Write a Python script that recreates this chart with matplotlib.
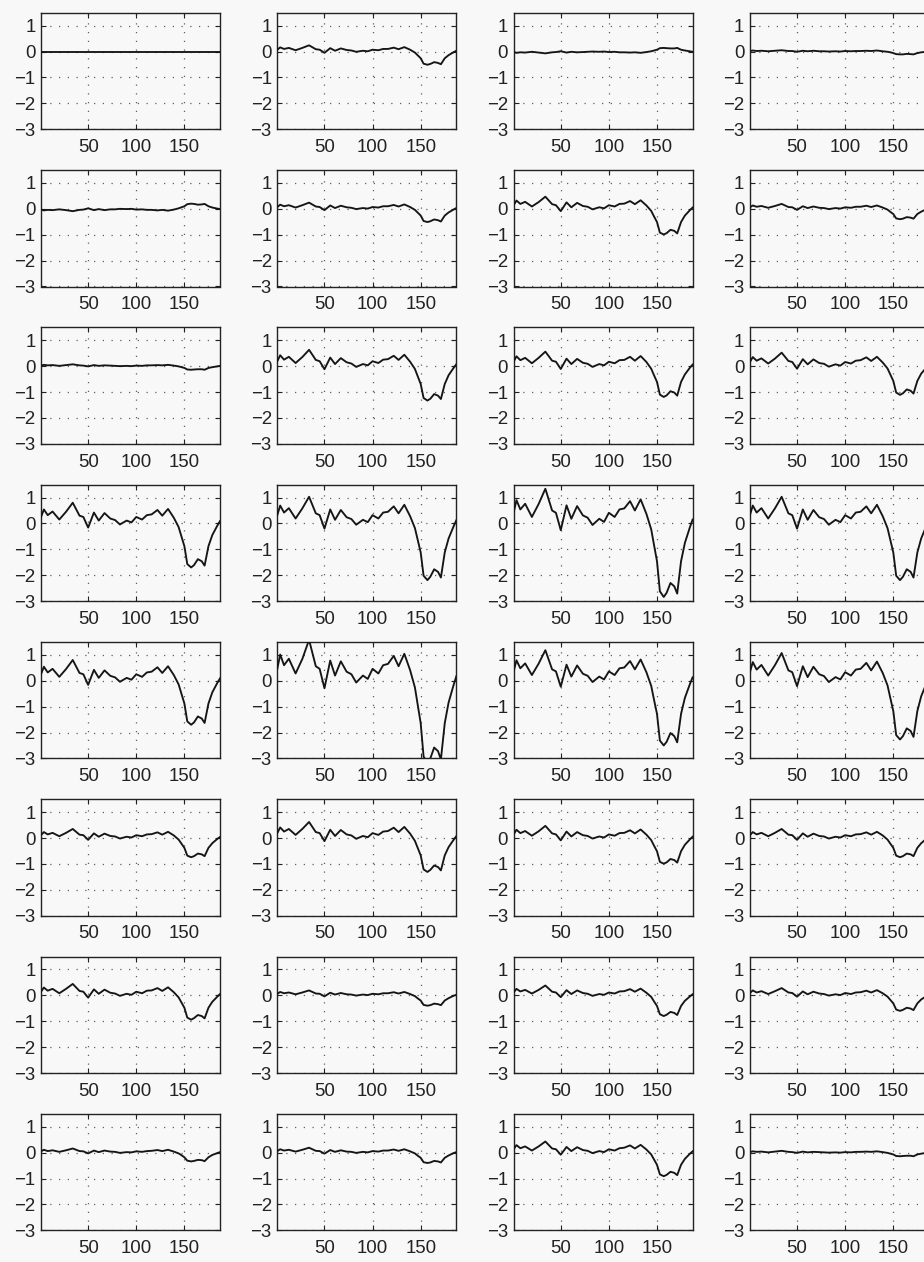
import matplotlib
matplotlib.use('Agg')
import matplotlib.pyplot as plt

plt.rcParams['font.family'] = ['Liberation Sans', 'DejaVu Sans']

# sample positions along the horizontal axis (shared by all panels)
x_pos = [1, 4, 8, 13, 20, 27, 34, 41, 45, 50, 56, 61, 67, 73, 78, 83, 90, 95, 100, 106,
         111, 116, 122, 127, 133, 139, 144, 147, 150, 153, 157, 160, 164, 168, 171, 175, 179, 184, 187]

x_ticks = [50, 100, 150]
y_ticks = [-3, -2, -1, 0, 1]

# row 1
p11 = [0.00, 0.00, 0.00, 0.00, 0.00, 0.00, 0.00, 0.00, 0.00, 0.00, 0.00, 0.00, 0.00, 0.00, 0.00, 0.00, 0.00, 0.00, 0.00, 0.00,
       0.00, 0.00, 0.00, 0.00, 0.00, 0.00, 0.00, 0.00, 0.00, 0.00, 0.00, 0.00, 0.00, 0.00, 0.00, 0.00, 0.00, 0.00, 0.00]
p12 = [0.07, 0.16, 0.10, 0.14, 0.05, 0.14, 0.24, 0.09, 0.07, -0.05, 0.13, 0.03, 0.12, 0.06, 0.04, -0.01, 0.03, 0.01, 0.07, 0.05,
       0.10, 0.10, 0.15, 0.09, 0.17, 0.07, -0.04, -0.15, -0.26, -0.47, -0.51, -0.48, -0.41, -0.44, -0.49, -0.26, -0.14, -0.03, 0.03]
p13 = [-0.02, -0.05, -0.03, -0.04, -0.01, -0.04, -0.07, -0.03, -0.02, 0.01, -0.04, -0.01, -0.03, -0.02, -0.01, 0.00, -0.01, 0.00, -0.02, -0.01,
       -0.03, -0.03, -0.04, -0.03, -0.05, -0.02, 0.01, 0.04, 0.07, 0.13, 0.14, 0.13, 0.12, 0.12, 0.14, 0.07, 0.04, 0.01, -0.01]
p14 = [0.02, 0.04, 0.02, 0.03, 0.01, 0.03, 0.05, 0.02, 0.02, -0.01, 0.03, 0.01, 0.03, 0.01, 0.01, 0.00, 0.01, 0.00, 0.02, 0.01,
       0.02, 0.02, 0.03, 0.02, 0.04, 0.01, -0.01, -0.03, -0.06, -0.10, -0.11, -0.11, -0.09, -0.10, -0.11, -0.06, -0.03, -0.01, 0.01]
# row 2
p21 = [-0.03, -0.06, -0.04, -0.05, -0.02, -0.05, -0.09, -0.04, -0.03, 0.02, -0.05, -0.01, -0.05, -0.02, -0.02, 0.00, -0.01, 0.00, -0.03, -0.02,
       -0.04, -0.04, -0.06, -0.04, -0.07, -0.03, 0.02, 0.06, 0.10, 0.18, 0.20, 0.19, 0.16, 0.17, 0.19, 0.10, 0.05, 0.01, -0.01]
p22 = [0.07, 0.16, 0.10, 0.14, 0.05, 0.14, 0.24, 0.09, 0.07, -0.05, 0.13, 0.03, 0.12, 0.06, 0.04, -0.01, 0.03, 0.01, 0.07, 0.05,
       0.10, 0.10, 0.15, 0.09, 0.17, 0.07, -0.04, -0.15, -0.26, -0.47, -0.51, -0.48, -0.41, -0.44, -0.49, -0.26, -0.14, -0.03, 0.03]
p23 = [0.14, 0.32, 0.19, 0.27, 0.09, 0.26, 0.47, 0.18, 0.14, -0.09, 0.25, 0.06, 0.23, 0.11, 0.08, -0.02, 0.06, 0.02, 0.14, 0.09,
       0.19, 0.20, 0.30, 0.18, 0.33, 0.13, -0.08, -0.30, -0.51, -0.92, -0.99, -0.94, -0.81, -0.85, -0.95, -0.51, -0.26, -0.06, 0.05]
p24 = [0.06, 0.13, 0.08, 0.11, 0.04, 0.11, 0.19, 0.07, 0.06, -0.04, 0.10, 0.03, 0.09, 0.04, 0.03, -0.01, 0.03, 0.01, 0.06, 0.04,
       0.08, 0.08, 0.12, 0.07, 0.13, 0.05, -0.03, -0.12, -0.20, -0.37, -0.40, -0.38, -0.32, -0.34, -0.38, -0.20, -0.11, -0.02, 0.02]
# row 3
p31 = [0.02, 0.05, 0.03, 0.04, 0.01, 0.04, 0.07, 0.03, 0.02, -0.01, 0.04, 0.01, 0.03, 0.02, 0.01, 0.00, 0.01, 0.00, 0.02, 0.01,
       0.03, 0.03, 0.04, 0.03, 0.05, 0.02, -0.01, -0.04, -0.07, -0.13, -0.14, -0.13, -0.12, -0.12, -0.14, -0.07, -0.04, -0.01, 0.01]
p32 = [0.19, 0.42, 0.25, 0.36, 0.12, 0.35, 0.63, 0.24, 0.19, -0.12, 0.33, 0.08, 0.31, 0.15, 0.10, -0.03, 0.08, 0.03, 0.19, 0.12,
       0.25, 0.27, 0.40, 0.24, 0.44, 0.17, -0.11, -0.40, -0.69, -1.23, -1.33, -1.26, -1.08, -1.14, -1.27, -0.69, -0.35, -0.08, 0.07]
p33 = [0.17, 0.38, 0.23, 0.32, 0.11, 0.32, 0.56, 0.21, 0.17, -0.11, 0.29, 0.08, 0.28, 0.13, 0.09, -0.03, 0.08, 0.03, 0.17, 0.11,
       0.23, 0.24, 0.36, 0.21, 0.39, 0.16, -0.10, -0.36, -0.61, -1.10, -1.19, -1.13, -0.97, -1.02, -1.14, -0.61, -0.32, -0.07, 0.06]
p34 = [0.16, 0.35, 0.21, 0.30, 0.10, 0.29, 0.52, 0.20, 0.16, -0.10, 0.27, 0.07, 0.26, 0.12, 0.09, -0.02, 0.07, 0.02, 0.16, 0.10,
       0.21, 0.23, 0.34, 0.20, 0.36, 0.14, -0.09, -0.33, -0.57, -1.02, -1.11, -1.05, -0.90, -0.95, -1.06, -0.57, -0.29, -0.07, 0.06]
# row 4
p41 = [0.25, 0.54, 0.32, 0.46, 0.15, 0.45, 0.80, 0.30, 0.25, -0.16, 0.42, 0.11, 0.40, 0.19, 0.13, -0.04, 0.11, 0.04, 0.25, 0.15,
       0.32, 0.35, 0.52, 0.30, 0.56, 0.22, -0.14, -0.51, -0.88, -1.57, -1.70, -1.61, -1.38, -1.46, -1.63, -0.88, -0.45, -0.10, 0.09]
p42 = [0.32, 0.69, 0.42, 0.59, 0.19, 0.58, 1.03, 0.39, 0.32, -0.20, 0.54, 0.14, 0.52, 0.24, 0.17, -0.05, 0.14, 0.05, 0.32, 0.19,
       0.42, 0.45, 0.66, 0.39, 0.72, 0.28, -0.18, -0.65, -1.12, -2.02, -2.19, -2.06, -1.77, -1.87, -2.09, -1.12, -0.58, -0.13, 0.12]
p43 = [0.41, 0.90, 0.54, 0.76, 0.25, 0.75, 1.34, 0.50, 0.41, -0.26, 0.70, 0.18, 0.67, 0.31, 0.22, -0.06, 0.18, 0.06, 0.41, 0.25,
       0.54, 0.58, 0.86, 0.50, 0.93, 0.37, -0.23, -0.85, -1.46, -2.62, -2.84, -2.68, -2.30, -2.43, -2.71, -1.46, -0.75, -0.17, 0.15]
p44 = [0.32, 0.69, 0.42, 0.59, 0.19, 0.58, 1.03, 0.39, 0.32, -0.20, 0.54, 0.14, 0.52, 0.24, 0.17, -0.05, 0.14, 0.05, 0.32, 0.19,
       0.42, 0.45, 0.66, 0.39, 0.72, 0.28, -0.18, -0.65, -1.12, -2.02, -2.19, -2.06, -1.77, -1.87, -2.09, -1.12, -0.58, -0.13, 0.12]
# row 5
p51 = [0.25, 0.54, 0.32, 0.46, 0.15, 0.45, 0.80, 0.30, 0.25, -0.16, 0.42, 0.11, 0.40, 0.19, 0.13, -0.04, 0.11, 0.04, 0.25, 0.15,
       0.32, 0.35, 0.52, 0.30, 0.56, 0.22, -0.14, -0.51, -0.88, -1.57, -1.70, -1.61, -1.38, -1.46, -1.63, -0.88, -0.45, -0.10, 0.09]
p52 = [0.46, 1.01, 0.60, 0.85, 0.28, 0.84, 1.58, 0.56, 0.46, -0.29, 0.78, 0.20, 0.75, 0.35, 0.25, -0.07, 0.20, 0.07, 0.46, 0.28,
       0.60, 0.65, 0.96, 0.56, 1.04, 0.41, -0.26, -0.95, -1.64, -2.93, -3.18, -3.00, -2.58, -2.72, -3.04, -1.64, -0.84, -0.19, 0.17]
p53 = [0.36, 0.79, 0.48, 0.67, 0.22, 0.66, 1.18, 0.44, 0.36, -0.23, 0.62, 0.16, 0.59, 0.27, 0.19, -0.05, 0.16, 0.05, 0.36, 0.22,
       0.48, 0.51, 0.76, 0.44, 0.82, 0.33, -0.20, -0.75, -1.28, -2.31, -2.50, -2.36, -2.02, -2.14, -2.38, -1.28, -0.66, -0.15, 0.13]
p54 = [0.33, 0.72, 0.43, 0.61, 0.20, 0.60, 1.07, 0.40, 0.33, -0.21, 0.56, 0.14, 0.54, 0.25, 0.18, -0.05, 0.14, 0.05, 0.33, 0.20,
       0.43, 0.46, 0.69, 0.40, 0.74, 0.30, -0.18, -0.68, -1.17, -2.10, -2.27, -2.14, -1.84, -1.94, -2.17, -1.17, -0.60, -0.14, 0.12]
# row 6
p61 = [0.11, 0.23, 0.14, 0.20, 0.07, 0.20, 0.35, 0.13, 0.11, -0.07, 0.18, 0.05, 0.17, 0.08, 0.06, -0.02, 0.05, 0.02, 0.11, 0.07,
       0.14, 0.15, 0.22, 0.13, 0.24, 0.10, -0.06, -0.22, -0.38, -0.68, -0.74, -0.70, -0.60, -0.63, -0.70, -0.38, -0.20, -0.04, 0.04]
p62 = [0.19, 0.41, 0.25, 0.35, 0.12, 0.35, 0.62, 0.23, 0.19, -0.12, 0.32, 0.08, 0.31, 0.14, 0.10, -0.03, 0.08, 0.03, 0.19, 0.12,
       0.25, 0.27, 0.40, 0.23, 0.43, 0.17, -0.11, -0.39, -0.67, -1.21, -1.31, -1.23, -1.06, -1.12, -1.25, -0.67, -0.35, -0.08, 0.07]
p63 = [0.14, 0.32, 0.19, 0.27, 0.09, 0.26, 0.47, 0.18, 0.14, -0.09, 0.25, 0.06, 0.23, 0.11, 0.08, -0.02, 0.06, 0.02, 0.14, 0.09,
       0.19, 0.20, 0.30, 0.18, 0.33, 0.13, -0.08, -0.30, -0.51, -0.92, -0.99, -0.94, -0.81, -0.85, -0.95, -0.51, -0.26, -0.06, 0.05]
p64 = [0.11, 0.23, 0.14, 0.20, 0.07, 0.20, 0.35, 0.13, 0.11, -0.07, 0.18, 0.05, 0.17, 0.08, 0.06, -0.02, 0.05, 0.02, 0.11, 0.07,
       0.14, 0.15, 0.22, 0.13, 0.24, 0.10, -0.06, -0.22, -0.38, -0.68, -0.74, -0.70, -0.60, -0.63, -0.70, -0.38, -0.20, -0.04, 0.04]
# row 7
p71 = [0.14, 0.30, 0.18, 0.25, 0.08, 0.25, 0.44, 0.17, 0.14, -0.09, 0.23, 0.06, 0.22, 0.10, 0.07, -0.02, 0.06, 0.02, 0.14, 0.08,
       0.18, 0.19, 0.28, 0.17, 0.31, 0.12, -0.08, -0.28, -0.48, -0.86, -0.94, -0.88, -0.76, -0.80, -0.89, -0.48, -0.25, -0.06, 0.05]
p72 = [0.06, 0.13, 0.08, 0.11, 0.04, 0.11, 0.19, 0.07, 0.06, -0.04, 0.10, 0.03, 0.09, 0.04, 0.03, -0.01, 0.03, 0.01, 0.06, 0.04,
       0.08, 0.08, 0.12, 0.07, 0.13, 0.05, -0.03, -0.12, -0.20, -0.37, -0.40, -0.38, -0.32, -0.34, -0.38, -0.20, -0.11, -0.02, 0.02]
p73 = [0.11, 0.25, 0.15, 0.21, 0.07, 0.21, 0.38, 0.14, 0.11, -0.07, 0.20, 0.05, 0.19, 0.09, 0.06, -0.02, 0.05, 0.02, 0.11, 0.07,
       0.15, 0.16, 0.24, 0.14, 0.26, 0.10, -0.06, -0.24, -0.41, -0.73, -0.80, -0.75, -0.64, -0.68, -0.76, -0.41, -0.21, -0.05, 0.04]
p74 = [0.09, 0.19, 0.11, 0.16, 0.05, 0.16, 0.28, 0.11, 0.09, -0.05, 0.15, 0.04, 0.14, 0.07, 0.05, -0.01, 0.04, 0.01, 0.09, 0.05,
       0.11, 0.12, 0.18, 0.11, 0.20, 0.08, -0.05, -0.18, -0.31, -0.55, -0.60, -0.56, -0.48, -0.51, -0.57, -0.31, -0.16, -0.04, 0.03]
# row 8
p81 = [0.05, 0.11, 0.06, 0.09, 0.03, 0.09, 0.16, 0.06, 0.05, -0.03, 0.08, 0.02, 0.08, 0.04, 0.03, -0.01, 0.02, 0.01, 0.05, 0.03,
       0.06, 0.07, 0.10, 0.06, 0.11, 0.04, -0.03, -0.10, -0.18, -0.31, -0.34, -0.32, -0.28, -0.29, -0.33, -0.18, -0.09, -0.02, 0.02]
p82 = [0.06, 0.13, 0.08, 0.11, 0.04, 0.11, 0.19, 0.07, 0.06, -0.04, 0.10, 0.03, 0.09, 0.04, 0.03, -0.01, 0.03, 0.01, 0.06, 0.04,
       0.08, 0.08, 0.12, 0.07, 0.13, 0.05, -0.03, -0.12, -0.20, -0.37, -0.40, -0.38, -0.32, -0.34, -0.38, -0.20, -0.11, -0.02, 0.02]
p83 = [0.13, 0.29, 0.17, 0.24, 0.08, 0.24, 0.43, 0.16, 0.13, -0.08, 0.22, 0.06, 0.21, 0.10, 0.07, -0.02, 0.06, 0.02, 0.13, 0.08,
       0.17, 0.19, 0.28, 0.16, 0.30, 0.12, -0.07, -0.27, -0.47, -0.84, -0.91, -0.86, -0.74, -0.78, -0.87, -0.47, -0.24, -0.05, 0.05]
p84 = [0.02, 0.05, 0.03, 0.04, 0.01, 0.04, 0.07, 0.03, 0.02, -0.01, 0.04, 0.01, 0.03, 0.02, 0.01, 0.00, 0.01, 0.00, 0.02, 0.01,
       0.03, 0.03, 0.04, 0.03, 0.05, 0.02, -0.01, -0.04, -0.07, -0.13, -0.14, -0.13, -0.12, -0.12, -0.14, -0.07, -0.04, -0.01, 0.01]

panels = [
    [p11, p12, p13, p14],
    [p21, p22, p23, p24],
    [p31, p32, p33, p34],
    [p41, p42, p43, p44],
    [p51, p52, p53, p54],
    [p61, p62, p63, p64],
    [p71, p72, p73, p74],
    [p81, p82, p83, p84],
]

W, H = 924, 1262
BG = '#f8f8f8'
fig = plt.figure(figsize=(W / 100, H / 100), dpi=100, facecolor=BG)

ax_w, ax_h = 179.0, 116.5
col_left, col_step = 41.0, 236.3
row_top, row_step = 12.7, 157.3

for r, row in enumerate(panels):
    for c, series in enumerate(row):
        left = col_left + c * col_step
        top = row_top + r * row_step
        ax = fig.add_axes([left / W, 1 - (top + ax_h) / H, ax_w / W, ax_h / H])
        ax.set_facecolor(BG)
        ax.plot(x_pos, series, color='#151515', lw=1.35, solid_joinstyle='round', zorder=3)
        ax.set_xlim(1, 187)
        ax.set_ylim(-3, 1.5)
        ax.set_xticks(x_ticks)
        ax.set_yticks(y_ticks)
        ax.set_xticklabels([str(v) for v in x_ticks])
        ax.set_yticklabels([str(v).replace('-', '\u2212') for v in y_ticks])
        ax.tick_params(direction='in', length=3.5, width=0.8, top=True, right=True,
                       labelsize=13.4, colors='#222222')
        ax.tick_params(axis='x', pad=7)
        ax.tick_params(axis='y', pad=4)
        ax.grid(True, linestyle=(0, (1, 6)), linewidth=0.9, color='#606060')
        for sp in ax.spines.values():
            sp.set_linewidth(1.0)
            sp.set_color('#222222')

fig.savefig('out.png', dpi=100, facecolor=BG)
